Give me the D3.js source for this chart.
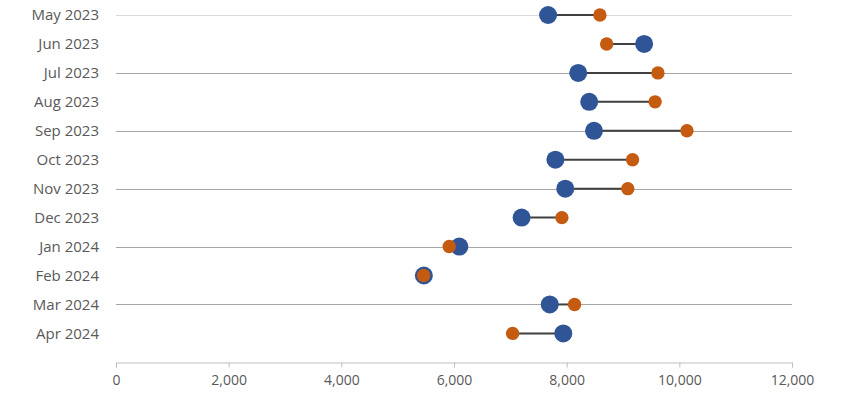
<!DOCTYPE html>
<html lang="en">
<head>
    <meta charset="UTF-8">
    <title>Monthly Dumbbell Chart</title>
    <script src="https://d3js.org/d3.v7.min.js"></script>
    <style>
        body {
            margin: 0;
            background: #ffffff;
            font-family: "Open Sans", Arial, sans-serif;
        }
        .month-label {
            font-size: 15px;
            fill: #595959;
        }
        .x-axis text {
            font-size: 14px;
            fill: #595959;
            font-family: "Open Sans", Arial, sans-serif;
        }
    </style>
</head>
<body>
    <div id="chart"></div>
    <script>
        // data
        const months = ["May 2023", "Jun 2023", "Jul 2023", "Aug 2023", "Sep 2023", "Oct 2023",
                        "Nov 2023", "Dec 2023", "Jan 2024", "Feb 2024", "Mar 2024", "Apr 2024"];
        const blueValues = [7670, 9375, 8205, 8400, 8485, 7800, 7975, 7200, 6095, 5465, 7700, 7940];
        const orangeValues = [8590, 8710, 9620, 9570, 10135, 9170, 9085, 7915, 5915, 5460, 8140, 7040];
        const xTicks = [0, 2000, 4000, 6000, 8000, 10000, 12000];

        const width = 850, height = 398;

        const svg = d3.select("#chart")
                      .append("svg")
                      .attr("width", width)
                      .attr("height", height);

        const x = d3.scaleLinear()
                    .domain([0, 12000])
                    .range([116, 792]);

        const y = d3.scalePoint()
                    .domain(months)
                    .range([15, 333.4]);

        const rows = months.map((m, i) => ({month: m, blue: blueValues[i], orange: orangeValues[i], i: i}));

        // gridlines on every other month
        svg.append("g")
            .selectAll("line")
            .data(rows.filter(d => d.i % 2 === 0))
            .enter().append("line")
            .attr("x1", x(0))
            .attr("x2", x(12000))
            .attr("y1", d => Math.round(y(d.month)) + 0.5)
            .attr("y2", d => Math.round(y(d.month)) + 0.5)
            .attr("stroke", d => d.i === 0 ? "#d9d9d9" : "#a6a6a6")
            .attr("stroke-width", 1);

        // month labels
        svg.append("g")
            .selectAll("text")
            .data(rows)
            .enter().append("text")
            .attr("class", "month-label")
            .attr("x", 99)
            .attr("y", d => y(d.month))
            .attr("dy", "0.35em")
            .attr("text-anchor", "end")
            .text(d => d.month);

        // x axis
        const axisY = 362.5;
        svg.append("g")
            .attr("class", "x-axis")
            .attr("transform", `translate(0,${axisY})`)
            .call(d3.axisBottom(x).tickValues(xTicks).tickSize(5).tickSizeOuter(5).tickPadding(8)
                .tickFormat(d3.format(",")))
            .call(g => g.selectAll(".domain, .tick line").attr("stroke", "#bfbfbf"));

        // connectors
        svg.append("g")
            .selectAll("line")
            .data(rows)
            .enter().append("line")
            .attr("x1", d => x(d.blue))
            .attr("x2", d => x(d.orange))
            .attr("y1", d => y(d.month))
            .attr("y2", d => y(d.month))
            .attr("stroke", "#404040")
            .attr("stroke-width", 2);

        // blue dots
        svg.append("g")
            .selectAll("circle")
            .data(rows)
            .enter().append("circle")
            .attr("cx", d => x(d.blue))
            .attr("cy", d => y(d.month))
            .attr("r", 9)
            .attr("fill", "#2f5597");

        // orange dots on top
        svg.append("g")
            .selectAll("circle")
            .data(rows)
            .enter().append("circle")
            .attr("cx", d => x(d.orange))
            .attr("cy", d => y(d.month))
            .attr("r", 6.7)
            .attr("fill", "#c55a11");
    </script>
</body>
</html>
